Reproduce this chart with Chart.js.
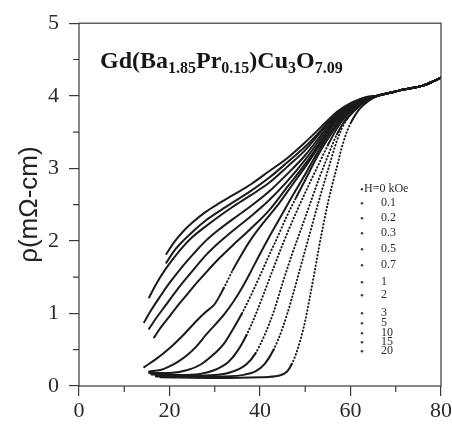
<!DOCTYPE html>
<html>
<head>
<meta charset="utf-8">
<script src="https://cdn.jsdelivr.net/npm/chart.js@4"></script>
<style>
  body { margin: 0; background: #fff; }
  canvas { display: block; }
</style>
</head>
<body>
<canvas id="grafica" width="452" height="427"></canvas>
<script>
// resistivity vs temperature, one curve per applied field
const fieldLabels = ['H=0 kOe', '0.1', '0.2', '0.3', '0.5', '0.7', '1', '2', '3', '5', '10', '15', '20'];

const tH0 = [18, 30, 40, 44, 46, 47, 48, 49, 50, 51, 52, 53, 54, 55, 56, 57, 58, 59, 60, 61, 62, 64];
const rhoH0 = [0.12, 0.11, 0.12, 0.14, 0.2, 0.3, 0.45, 0.65, 0.9, 1.22, 1.55, 1.9, 2.22, 2.52, 2.78, 3.02, 3.27, 3.47, 3.62, 3.73, 3.82, 3.93];

const tH01 = [17, 30, 36, 39, 41, 43, 45, 47, 49, 51, 53, 55, 57, 59, 61, 62, 64];
const rhoH01 = [0.13, 0.13, 0.15, 0.2, 0.3, 0.5, 0.8, 1.2, 1.65, 2.1, 2.55, 2.97, 3.38, 3.66, 3.8, 3.86, 3.94];

const tH02 = [17, 25, 30, 34, 37, 39, 41, 43, 45, 47, 49, 51, 53, 55, 57, 59, 61, 62, 64];
const rhoH02 = [0.14, 0.14, 0.15, 0.2, 0.3, 0.45, 0.7, 1.02, 1.42, 1.8, 2.15, 2.5, 2.85, 3.17, 3.47, 3.68, 3.82, 3.88, 3.95];

const tH03 = [16, 22, 27, 30, 33, 35, 37, 39, 41, 43, 45, 47, 49, 51, 53, 55, 57, 59, 61, 62, 64];
const rhoH03 = [0.16, 0.15, 0.17, 0.22, 0.33, 0.48, 0.7, 0.98, 1.3, 1.63, 1.95, 2.25, 2.53, 2.8, 3.06, 3.32, 3.55, 3.72, 3.84, 3.89, 3.95];

const tH05 = [15.5, 20, 24, 27, 30, 32, 34, 36, 38, 40, 42, 44, 46, 48, 50, 53, 56, 58, 60, 62, 64];
const rhoH05 = [0.18, 0.18, 0.22, 0.3, 0.45, 0.58, 0.78, 1.0, 1.25, 1.52, 1.8, 2.07, 2.35, 2.6, 2.84, 3.2, 3.5, 3.67, 3.8, 3.9, 3.96];

const tH07 = [15.5, 18, 20, 22, 24, 26, 28, 30, 32, 34, 36, 38, 40, 42, 44, 47, 50, 53, 56, 58, 60, 62, 64];
const rhoH07 = [0.2, 0.22, 0.27, 0.34, 0.43, 0.55, 0.7, 0.84, 0.98, 1.15, 1.35, 1.58, 1.82, 2.05, 2.27, 2.6, 2.92, 3.25, 3.54, 3.7, 3.82, 3.91, 3.96];

const tH1 = [14.4, 17, 20, 23, 26, 28, 30, 32, 34, 36, 38, 41, 44, 47, 50, 53, 56, 58, 60, 62, 64];
const rhoH1 = [0.26, 0.37, 0.52, 0.7, 0.9, 1.02, 1.13, 1.35, 1.6, 1.82, 2.02, 2.27, 2.5, 2.76, 3.02, 3.3, 3.58, 3.73, 3.84, 3.92, 3.96];

const tH2 = [16.6, 18, 20, 22, 24, 26, 28, 31, 34, 38, 42, 46, 50, 54, 57, 60, 62, 64];
const rhoH2 = [0.67, 0.8, 0.96, 1.12, 1.27, 1.42, 1.56, 1.76, 1.94, 2.17, 2.42, 2.74, 3.06, 3.42, 3.68, 3.85, 3.93, 3.97];

const tH3 = [15.5, 17, 19, 21, 23, 25, 28, 31, 34, 38, 42, 46, 50, 54, 57, 60, 62, 64];
const rhoH3 = [0.79, 0.93, 1.1, 1.27, 1.43, 1.58, 1.8, 1.98, 2.14, 2.34, 2.56, 2.82, 3.12, 3.46, 3.7, 3.86, 3.93, 3.97];

const tH5 = [14.4, 16, 18, 20, 22, 24, 26, 28, 31, 34, 38, 42, 46, 50, 54, 57, 60, 62, 64];
const rhoH5 = [0.88, 1.05, 1.24, 1.42, 1.58, 1.73, 1.87, 2.0, 2.16, 2.3, 2.48, 2.68, 2.92, 3.18, 3.5, 3.72, 3.87, 3.94, 3.97];

const tH10 = [15.5, 17, 19, 21, 23, 25, 28, 31, 34, 38, 42, 46, 50, 54, 57, 60, 62, 64];
const rhoH10 = [1.22, 1.4, 1.6, 1.77, 1.92, 2.05, 2.2, 2.34, 2.47, 2.63, 2.8, 3.02, 3.25, 3.54, 3.74, 3.88, 3.94, 3.98];

const tH15 = [19.3, 21, 23, 25, 28, 31, 34, 38, 42, 46, 50, 54, 57, 60, 62, 64];
const rhoH15 = [1.7, 1.86, 2.0, 2.12, 2.28, 2.41, 2.53, 2.69, 2.87, 3.08, 3.3, 3.56, 3.76, 3.89, 3.95, 3.98];

const tH20 = [19.3, 21, 23, 25, 28, 31, 34, 38, 42, 46, 50, 54, 57, 60, 62, 64];
const rhoH20 = [1.82, 1.98, 2.13, 2.25, 2.4, 2.52, 2.63, 2.78, 2.96, 3.14, 3.36, 3.6, 3.78, 3.9, 3.95, 3.99];

// above ~65 K every field collapses onto the normal-state curve
const tailT = [66, 68, 70, 72, 74, 76, 78, 80];
const tailRho = [4.0, 4.03, 4.06, 4.09, 4.11, 4.14, 4.19, 4.25];

const xTicks = [0, 20, 40, 60, 80];
const xMinor = [10, 30, 50, 70];
const yTicks = [0, 1, 2, 3, 4, 5];
const yMinor = [0.5, 1.5, 2.5, 3.5, 4.5];

const curves = [
  [tH0, rhoH0], [tH01, rhoH01], [tH02, rhoH02], [tH03, rhoH03], [tH05, rhoH05],
  [tH07, rhoH07], [tH1, rhoH1], [tH2, rhoH2], [tH3, rhoH3], [tH5, rhoH5],
  [tH10, rhoH10], [tH15, rhoH15], [tH20, rhoH20]
];

const ink = '#1b1b1b';
const serif = '"Liberation Serif", "DejaVu Serif", serif';

// steep stretches were sampled sparsely, so they show up as dots
const steep = ctx => {
  const dx = Math.abs(ctx.p1.x - ctx.p0.x);
  const dy = Math.abs(ctx.p1.y - ctx.p0.y);
  return dy / dx > 2.0 ? [0.5, 3] : undefined;
};

const datasets = curves.map(([t, rho], i) => ({
  label: fieldLabels[i],
  data: t.concat(tailT).map((x, k) => ({ x, y: rho.concat(tailRho)[k] })),
  showLine: true,
  pointRadius: 0,
  borderColor: ink,
  borderWidth: 2,
  borderCapStyle: 'round',
  cubicInterpolationMode: 'monotone',
  segment: { borderDash: steep }
}));

const extras = {
  id: 'extras',
  afterDraw(chart) {
    const { ctx, chartArea: a, scales: { x, y } } = chart;
    ctx.save();
    ctx.strokeStyle = '#3a3a3a';
    ctx.lineWidth = 1.2;
    ctx.strokeRect(a.left, a.top, a.right - a.left, a.bottom - a.top);

    ctx.beginPath();
    xMinor.forEach(v => {
      const px = x.getPixelForValue(v);
      ctx.moveTo(px, a.bottom);
      ctx.lineTo(px, a.bottom + 6);
    });
    yMinor.forEach(v => {
      const py = y.getPixelForValue(v);
      ctx.moveTo(a.left, py);
      ctx.lineTo(a.left - 6, py);
    });
    ctx.stroke();

    // compound formula with subscripts
    const parts = [['Gd(Ba', 0], ['1.85', 1], ['Pr', 0], ['0.15', 1], [')Cu', 0], ['3', 1], ['O', 0], ['7.09', 1]];
    let cx = a.left + 21;
    const base = a.top + 45;
    ctx.fillStyle = '#161616';
    ctx.textBaseline = 'alphabetic';
    parts.forEach(([s, sub]) => {
      ctx.font = sub ? 'bold 16px ' + serif : 'bold 24px ' + serif;
      ctx.fillText(s, cx, base + (sub ? 5 : 0));
      cx += ctx.measureText(s).width;
    });

    // field legend
    const rowY = [166, 180, 195, 210, 226, 242, 259, 272, 290, 300, 310, 319, 328];
    ctx.font = '12px ' + serif;
    ctx.textBaseline = 'middle';
    fieldLabels.forEach((lab, i) => {
      const ry = a.top + rowY[i];
      ctx.fillStyle = '#444';
      ctx.beginPath();
      ctx.arc(a.left + 283, ry, 1.3, 0, Math.PI * 2);
      ctx.fill();
      ctx.fillStyle = '#2a2a2a';
      ctx.fillText(lab, i === 0 ? a.left + 285 : a.left + 302, ry);
    });
    ctx.restore();
  }
};

const grafica = new Chart(document.getElementById('grafica'), {
  type: 'scatter',
  data: { datasets },
  options: {
    responsive: false,
    animation: false,
    layout: { padding: { left: 3, right: 11, top: 20, bottom: 0 } },
    plugins: { legend: { display: false }, tooltip: { enabled: false } },
    scales: {
      x: {
        type: 'linear',
        min: 0,
        max: 80,
        afterBuildTicks: s => { s.ticks = xTicks.map(value => ({ value })); },
        afterFit: s => { s.height = 41; s.paddingRight = 0; },
        ticks: { font: { family: serif, size: 22 }, color: '#2a2a2a', padding: 2, maxRotation: 0 },
        grid: { drawOnChartArea: false, tickLength: 10, color: '#3a3a3a', lineWidth: 1.2 },
        border: { display: false }
      },
      y: {
        min: 0,
        max: 5,
        afterBuildTicks: s => { s.ticks = yTicks.map(value => ({ value })); },
        afterFit: s => { s.width = 76; },
        ticks: { font: { family: serif, size: 22 }, color: '#2a2a2a', padding: 10 },
        grid: { drawOnChartArea: false, tickLength: 10, color: '#3a3a3a', lineWidth: 1.2 },
        border: { display: false },
        title: {
          display: true,
          text: 'ρ(mΩ-cm)',
          font: { family: '"Liberation Sans", Arial, sans-serif', size: 26 },
          color: '#222',
          padding: { top: 11, bottom: 0 }
        }
      }
    }
  },
  plugins: [extras]
});
</script>
</body>
</html>
